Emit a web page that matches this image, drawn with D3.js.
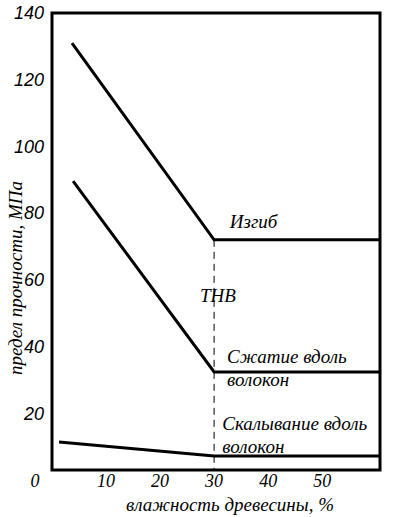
<!DOCTYPE html>
<html>
<head>
<meta charset="utf-8">
<script src="https://cdn.jsdelivr.net/npm/d3@7"></script>
<style>
  body { margin: 0; background: #fff; }
  svg { display: block; }
</style>
</head>
<body>
<script>
(function() {
    var w = 393,
        h = 517;
    // data
    var xTicks = [10, 20, 30, 40, 50];
    var yTicks = [20, 40, 60, 80, 100, 120, 140];
    var bending = [[3.7, 131], [30, 72], [60.7, 72]];        // Изгиб
    var compression = [[3.9, 89.6], [30, 32.4], [60.7, 32.4]]; // Сжатие вдоль волокон
    var shear = [[1.3, 11.4], [30, 7.2], [60.7, 7.2]];        // Скалывание вдоль волокон
    var fsp = 30; // точка насыщения волокон
    var labels = [
        {x: 32.9, y: 75.5, lines: ['Изгиб']},
        {x: 27.4, y: 53.4, lines: ['ТНВ']},
        {x: 32.4, y: 35.1, lines: ['Сжатие вдоль', 'волокон']},
        {x: 31.5, y: 15.0, lines: ['Скалывание вдоль', 'волокон']}
    ];

    var left = 52, right = 380, topY = 13, bottom = 470;

    var svg = d3.select('body')
        .append('svg')
        .attr('width', w)
        .attr('height', h);

    var x = d3.scaleLinear().domain([0, 60.7]).range([left, right]);
    var y = d3.scaleLinear().domain([3, 140]).range([bottom, topY]);

    var line = d3.line()
        .x(function(d) { return x(d[0]); })
        .y(function(d) { return y(d[1]); });

    function txt(family, size) {
        return svg.append('text')
            .attr('font-family', family)
            .attr('font-style', 'italic')
            .attr('font-size', size);
    }

    // dashed FSP line
    svg.append('line')
        .attr('x1', x(fsp)).attr('x2', x(fsp))
        .attr('y1', y(72)).attr('y2', bottom)
        .attr('stroke', '#000')
        .attr('stroke-width', 1)
        .attr('stroke-dasharray', '7,5');

    [bending, compression, shear].forEach(function(s) {
        svg.append('path')
            .datum(s)
            .attr('d', line)
            .attr('fill', 'none')
            .attr('stroke', '#000')
            .attr('stroke-width', 3);
    });

    // frame
    svg.append('rect')
        .attr('x', left).attr('y', topY)
        .attr('width', right - left).attr('height', bottom - topY)
        .attr('fill', 'none')
        .attr('stroke', '#000')
        .attr('stroke-width', 3);

    labels.forEach(function(l) {
        var t = txt('Liberation Serif', 19);
        l.lines.forEach(function(s, i) {
            t.append('tspan')
                .attr('x', x(l.x))
                .attr('y', y(l.y) + i * 23)
                .text(s);
        });
    });

    xTicks.forEach(function(d) {
        txt('Liberation Serif', 18)
            .attr('x', x(d))
            .attr('y', 487)
            .attr('text-anchor', 'middle')
            .text(d);
    });

    txt('Liberation Serif', 18)
        .attr('x', 35).attr('y', 487)
        .attr('text-anchor', 'middle')
        .text('0');

    txt('Liberation Serif', 19)
        .attr('x', 230).attr('y', 511)
        .attr('text-anchor', 'middle')
        .text('влажность древесины, %');

    txt('Liberation Serif', 19)
        .attr('transform', 'translate(22,278) rotate(-90)')
        .attr('text-anchor', 'middle')
        .text('предел прочности, МПа');

    // y tick labels
    yTicks.forEach(function(d) {
        txt('Arial', 18)
            .attr('x', 44)
            .attr('y', y(d))
            .attr('dy', '0.35em')
            .attr('text-anchor', 'end')
            .text(d);
    });
})();
</script>
</body>
</html>
